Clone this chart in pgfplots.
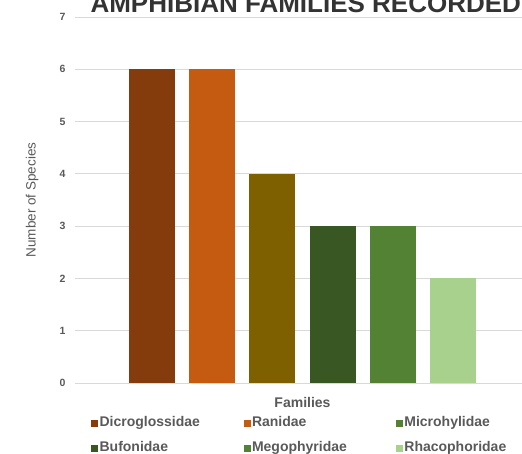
\documentclass[border=0pt]{standalone}
\usepackage{pgfplots}
\pgfplotsset{compat=1.18}
\usepackage{fontspec}
\setmainfont{Liberation Sans}
\definecolor{txt}{HTML}{595959}
\definecolor{gridc}{HTML}{D9D9D9}
\definecolor{cA}{HTML}{843C0C}
\definecolor{cB}{HTML}{C55A11}
\definecolor{cC}{HTML}{7F6000}
\definecolor{cD}{HTML}{385723}
\definecolor{cE}{HTML}{548235}
\definecolor{cF}{HTML}{A9D18E}
\begin{document}
\begin{tikzpicture}
\useasboundingbox (-75pt,-70pt) rectangle (447pt,383pt);
\clip (-75pt,-70pt) rectangle (447pt,383pt);
\begin{axis}[
  at={(0pt,0pt)}, anchor=south west,
  scale only axis, width=455pt, height=366pt,
  xmin=-1.28, xmax=6.28, ymin=0, ymax=7,
  ytick={0,...,7}, xtick=\empty,
  axis line style={draw=none},
  major tick length=0pt,
  ymajorgrids, major grid style={gridc, line width=0.9pt},
  /pgf/number format/assume math mode=true,
  yticklabel style={font=\bfseries\fontsize{10.5}{11}\selectfont, text=txt, xshift=-6pt},
  ylabel={Number of Species},
  ylabel style={at={([xshift=-33pt]axis description cs:0,0.5)}, anchor=south, font=\fontsize{13.5}{14}\selectfont, text=txt},
  xlabel={Families},
  xlabel style={at={([yshift=-19pt]axis description cs:0.5,0)}, anchor=center, font=\bfseries\fontsize{14}{15}\selectfont, text=txt},
  legend columns=3,
  legend cell align=left,
  legend image code/.code={\fill[#1] (0pt,-3pt) rectangle (6pt,3pt);},
  legend style={at={(axis description cs:0,0)}, anchor=north west, xshift=13pt, yshift=-30pt,
    draw=none, fill=none, row sep=10pt,
    font=\bfseries\fontsize{14}{15}\selectfont, text=txt,
    nodes={text width=142pt, inner xsep=2pt, inner ysep=1pt, text height=10pt, text depth=3pt}},
]
\addplot[ybar, bar shift=0pt, bar width=0.764, fill=cA, draw=none, forget plot] coordinates {(0,6)};
\addplot[ybar, bar shift=0pt, bar width=0.764, fill=cB, draw=none, forget plot] coordinates {(1,6)};
\addplot[ybar, bar shift=0pt, bar width=0.764, fill=cC, draw=none, forget plot] coordinates {(2,4)};
\addplot[ybar, bar shift=0pt, bar width=0.764, fill=cD, draw=none, forget plot] coordinates {(3,3)};
\addplot[ybar, bar shift=0pt, bar width=0.764, fill=cE, draw=none, forget plot] coordinates {(4,3)};
\addplot[ybar, bar shift=0pt, bar width=0.764, fill=cF, draw=none, forget plot] coordinates {(5,2)};
\addlegendimage{cA}\addlegendentry{Dicroglossidae}
\addlegendimage{cB}\addlegendentry{Ranidae}
\addlegendimage{cE}\addlegendentry{Microhylidae}
\addlegendimage{cD}\addlegendentry{Bufonidae}
\addlegendimage{cE}\addlegendentry{Megophyridae}
\addlegendimage{cF}\addlegendentry{Rhacophoridae}
\end{axis}
\node[anchor=base west, font=\bfseries\fontsize{26}{28}\selectfont, text=black!80] at (12pt,370pt) {AMPHIBIAN FAMILIES RECORDED};
\end{tikzpicture}
\end{document}
